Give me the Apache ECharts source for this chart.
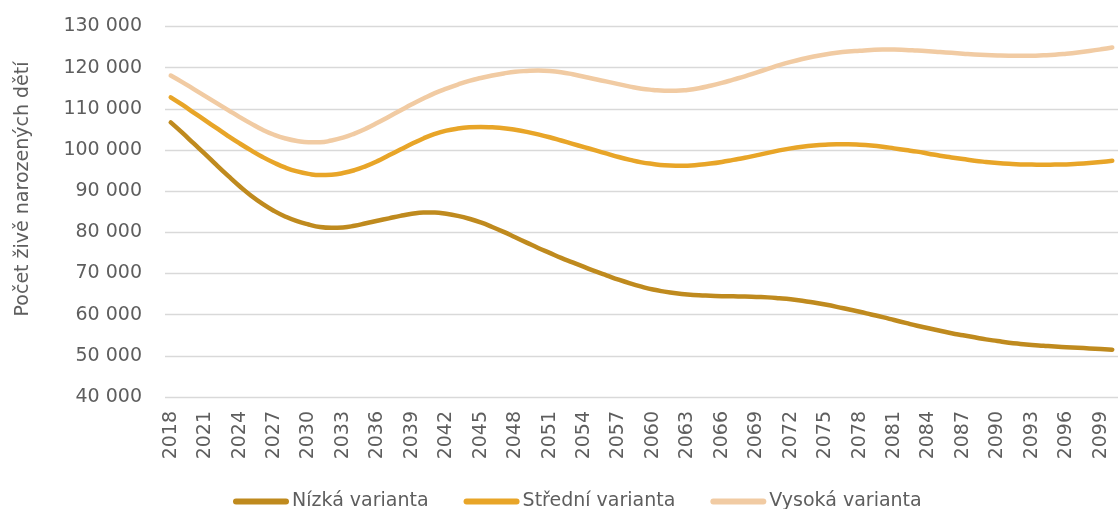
<!DOCTYPE html>
<html>
<head>
<meta charset="utf-8">
<script src="https://cdn.jsdelivr.net/npm/echarts@6/dist/echarts.min.js"></script>
<style>
html,body{margin:0;padding:0;background:#fff;}
#c{width:1118px;height:509px;}
</style>
</head>
<body>
<div id="c"></div>
<script>
const years = [];
for (let y = 2018; y <= 2100; y++) years.push(String(y));

const seriesNames = ['Nízká varianta', 'Střední varianta', 'Vysoká varianta'];

const nizka = [
106700,104200,101600,99000,96300,93700,91200,88900,86900,85200,
83800,82700,81900,81300,81100,81200,81600,82200,82800,83400,
84000,84500,84800,84800,84500,84000,83300,82400,81300,80100,
78800,77500,76200,75000,73800,72700,71600,70500,69500,68500,
67600,66800,66100,65600,65200,64900,64700,64600,64500,64450,
64400,64300,64200,64000,63750,63400,62950,62450,61900,61300,
60700,60050,59400,58700,58000,57300,56700,56100,55500,55000,
54500,54000,53600,53200,52900,52650,52450,52250,52100,51950,
51800,51650,51500];

const stredni = [
112800,111000,109100,107200,105300,103400,101600,99900,98300,96900,
95700,94800,94200,93900,94000,94400,95100,96100,97300,98700,
100100,101500,102800,103900,104700,105200,105500,105600,105500,105300,
104900,104400,103800,103100,102300,101500,100700,99900,99100,98300,
97600,97000,96600,96300,96200,96200,96400,96700,97100,97600,
98100,98700,99300,99900,100400,100800,101100,101300,101400,101400,
101300,101100,100800,100400,100000,99600,99100,98600,98200,97800,
97400,97100,96850,96650,96500,96450,96400,96450,96500,96650,
96850,97100,97400];

const vysoka = [
118100,116500,114800,113100,111400,109700,108000,106400,104900,103700,
102800,102200,101900,101900,102300,103000,104000,105200,106600,108100,
109600,111100,112500,113800,114900,115900,116800,117500,118100,118600,
119000,119200,119300,119200,118900,118400,117800,117200,116600,116000,
115400,114900,114600,114400,114400,114600,115000,115600,116300,117100,
117900,118800,119700,120600,121400,122100,122700,123200,123600,123900,
124100,124300,124400,124400,124300,124150,124000,123800,123600,123400,
123200,123050,122950,122900,122900,122900,123000,123150,123400,123700,
124050,124450,124900];

const yMin = 40000, yMax = 130000, yStep = 10000;
const yTitle = 'Počet živě narozených dětí';

const colors = ['#BF8A1E', '#E8A528', '#F1CBA3'];
const FONT = 'DejaVu Sans';
const TXT = '#5E5E5E';

const chart = echarts.init(document.getElementById('c'), null, {renderer: 'canvas'});

const mk = (name, data, color) => ({
  name, type: 'line', data,
  smooth: 0.5, showSymbol: false, symbol: 'none',
  lineStyle: {color, width: 4.5, cap: 'round', join: 'round'},
  itemStyle: {color},
  emphasis: {disabled: true}
});

chart.setOption({
  animation: false,
  textStyle: {fontFamily: FONT},
  grid: {left: 165, right: -10, top: 26.5, bottom: 112, containLabel: false},
  xAxis: {
    type: 'category', data: years, boundaryGap: true,
    axisLine: {show: false}, axisTick: {show: false},
    axisLabel: {interval: 2, rotate: 90, margin: 14, color: TXT, fontSize: 19, fontFamily: FONT},
    splitLine: {show: false}
  },
  yAxis: {
    type: 'value', min: yMin, max: yMax, interval: yStep,
    axisLine: {show: false}, axisTick: {show: false},
    axisLabel: {
      margin: 23, color: TXT, fontSize: 19, fontFamily: FONT,
      formatter: v => String(v).replace(/\B(?=(\d{3})+(?!\d))/g, ' ')
    },
    splitLine: {lineStyle: {color: '#D9D9D9', width: 1.3}}
  },
  legend: {
    left: 228, top: 487,
    itemWidth: 56, itemHeight: 6, itemGap: 35,
    icon: 'path://M3,0 H53 A3,3 0 0 1 53,6 H3 A3,3 0 0 1 3,0 Z',
    textStyle: {color: TXT, fontSize: 19, fontFamily: FONT, padding: [0,0,0,-2]},
    data: seriesNames
  },
  graphic: [{
    type: 'text', x: 23, y: 189, rotation: Math.PI / 2,
    style: {text: yTitle, fill: TXT, font: '19px "' + FONT + '"', textAlign: 'center', textVerticalAlign: 'middle'}
  }],
  series: [
    mk(seriesNames[0], nizka, colors[0]),
    mk(seriesNames[1], stredni, colors[1]),
    mk(seriesNames[2], vysoka, colors[2])
  ]
});
</script>
</body>
</html>
